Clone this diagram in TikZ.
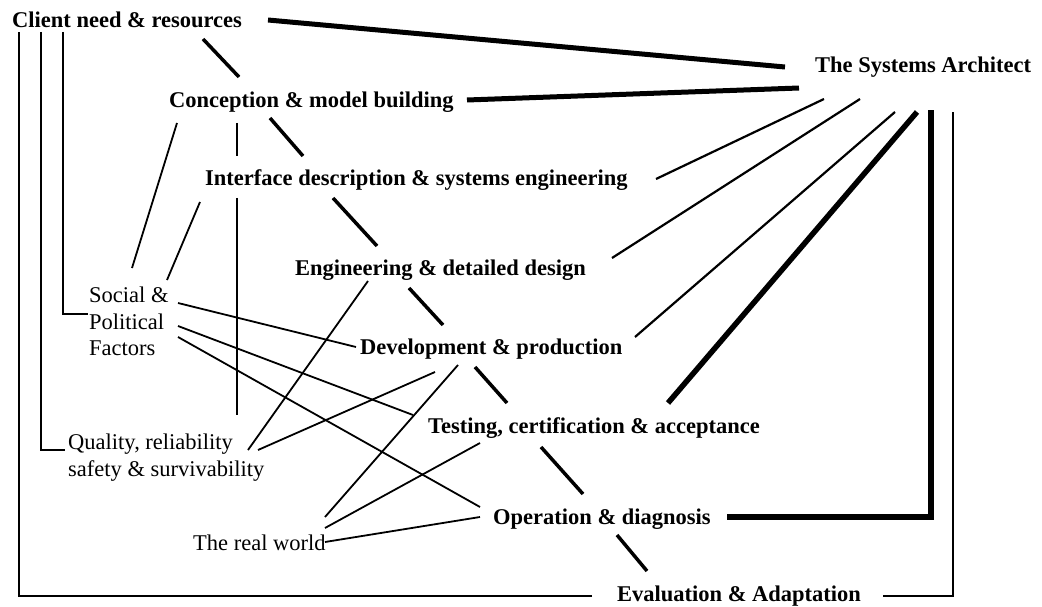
\documentclass[tikz,border=0pt]{standalone}
\usepackage{fontspec}
\setmainfont{Liberation Serif}
\begin{document}
\begin{tikzpicture}[x=1pt,y=-1pt,
  stage/.style={inner sep=0pt, anchor=base west, font=\fontsize{22.5}{26.5}\selectfont\bfseries},
  factor/.style={inner sep=0pt, anchor=north west, align=left, font=\fontsize{22.5}{26.5}\selectfont},
  chain/.style={line width=3.5pt},
  link/.style={line width=1.8pt},
  ray/.style={line width=2.2pt},
  heavy/.style={line width=5pt},
  bracket/.style={line width=6pt, line cap=rect},
  frame/.style={line width=1.6pt},
]
\fill[white] (0,0) rectangle (1042,607);
\useasboundingbox (0,0) rectangle (1042,607);

% --- labels -------------------------------------------------------------
\node[stage] (client) at (12,27.5)   {Client need \& resources};
\node[stage] (arch)   at (815,72.5)  {The Systems Architect};
\node[stage] (concep) at (169,107.5) {Conception \& model building};
\node[stage] (iface)  at (205,185.5) {Interface description \& systems engineering};
\node[stage] (eng)    at (295,275.5) {Engineering \& detailed design};
\node[stage] (dev)    at (360,354.5) {Development \& production};
\node[stage] (test)   at (428,433.5) {Testing, certification \& acceptance};
\node[stage] (oper)   at (493,524.5) {Operation \& diagnosis};
\node[stage] (eval)   at (617,601.5) {Evaluation \& Adaptation};

\node[factor] (social)  at (89,287)  {Social \&\\Political\\Factors};
\node[factor] (quality) at (68,434)  {Quality, reliability\\safety \& survivability};
\node[inner sep=0pt, anchor=base west, font=\fontsize{22.5}{26.5}\selectfont] (world) at (193,550.5) {The real world};

% --- connector end points -------------------------------------------------
\coordinate (c1a) at (203,39);  \coordinate (c1b) at (239,77);
\coordinate (c2a) at (270,118); \coordinate (c2b) at (303,156);
\coordinate (c3a) at (333,198); \coordinate (c3b) at (377,246);
\coordinate (c4a) at (409,288); \coordinate (c4b) at (443,325);
\coordinate (c5a) at (475,367); \coordinate (c5b) at (507,403);
\coordinate (c6a) at (541,447); \coordinate (c6b) at (583,494);
\coordinate (c7a) at (617,535); \coordinate (c7b) at (647,571);

% the life-cycle chain
\draw[chain] (c1a) -- (c1b);
\draw[chain] (c2a) -- (c2b);
\draw[chain] (c3a) -- (c3b);
\draw[chain] (c4a) -- (c4b);
\draw[chain] (c5a) -- (c5b);
\draw[chain] (c6a) -- (c6b);
\draw[chain] (c7a) -- (c7b);

% the architect's links
\coordinate (a1a) at (268,20);  \coordinate (a1b) at (785,67);
\coordinate (a2a) at (467,100); \coordinate (a2b) at (799,88);
\coordinate (a3a) at (824,99);  \coordinate (a3b) at (656,179);
\coordinate (a4a) at (860,99);  \coordinate (a4b) at (612,258);
\coordinate (a5a) at (895,112); \coordinate (a5b) at (635,337);
\coordinate (a6a) at (917,112); \coordinate (a6b) at (668,403);
\draw[heavy] (a1a) -- (a1b);
\draw[heavy] (a2a) -- (a2b);
\draw[ray] (a3a) -- (a3b);
\draw[ray] (a4a) -- (a4b);
\draw[ray] (a5a) -- (a5b);
\draw[heavy, line width=5.5pt] (a6a) -- (a6b);

% feedback from operation to the architect
\coordinate (fbA) at (730,517); \coordinate (fbB) at (931,517); \coordinate (fbC) at (931,113);
\draw[bracket] (fbA) -- (fbB) -- (fbC);

% outer loop through evaluation
\coordinate (evR1) at (883,596); \coordinate (evR2) at (953,596); \coordinate (evR3) at (953,112);
\coordinate (evL1) at (592,596); \coordinate (evL2) at (19,596);  \coordinate (evL3) at (19,32);
\draw[frame] (evR1) -- (evR2) -- (evR3);
\draw[frame] (evL1) -- (evL2) -- (evL3);

% client brackets to the factors
\coordinate (q1) at (41,32); \coordinate (q2) at (41,450); \coordinate (q3) at (65,450);
\coordinate (s1) at (63,32); \coordinate (s2) at (63,314); \coordinate (s3) at (88,314);
\draw[frame] (q1) -- (q2) -- (q3);
\draw[frame] (s1) -- (s2) -- (s3);

% cross links
\coordinate (v1a) at (237,123); \coordinate (v1b) at (237,156);
\coordinate (v2a) at (237,198); \coordinate (v2b) at (237,415);
\coordinate (cs1) at (177,123); \coordinate (cs2) at (132,268);
\coordinate (is1) at (200,202); \coordinate (is2) at (167,280);
\coordinate (sd1) at (178,303); \coordinate (sd2) at (356,347);
\coordinate (pt1) at (178,326); \coordinate (pt2) at (413,415);
\coordinate (fo1) at (178,337); \coordinate (fo2) at (480,507);
\coordinate (eq1) at (368,281); \coordinate (eq2) at (248,450);
\coordinate (dq1) at (435,372); \coordinate (dq2) at (258,450);
\coordinate (dw1) at (458,365); \coordinate (dw2) at (325,517);
\coordinate (tw1) at (480,443); \coordinate (tw2) at (325,528);
\coordinate (ow1) at (480,517); \coordinate (ow2) at (325,542);
\draw[link] (v1a) -- (v1b);
\draw[link] (v2a) -- (v2b);
\draw[link] (cs1) -- (cs2);
\draw[link] (is1) -- (is2);
\draw[link] (sd1) -- (sd2);
\draw[link] (pt1) -- (pt2);
\draw[link] (fo1) -- (fo2);
\draw[link] (eq1) -- (eq2);
\draw[link] (dq1) -- (dq2);
\draw[link] (dw1) -- (dw2);
\draw[link] (tw1) -- (tw2);
\draw[link] (ow1) -- (ow2);
\end{tikzpicture}
\end{document}
